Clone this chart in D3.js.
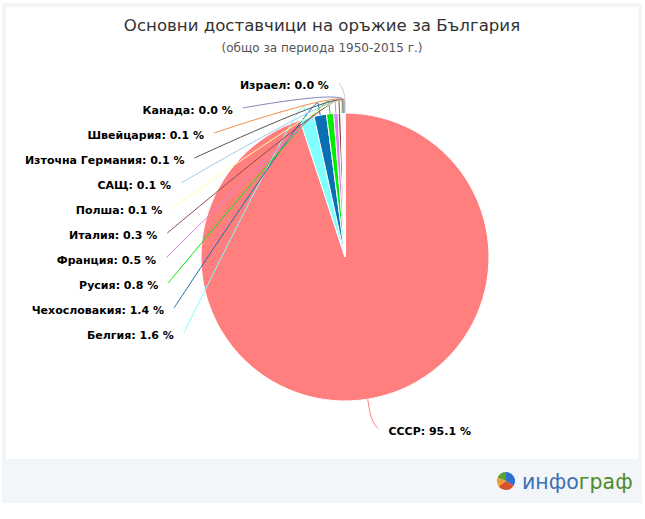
<!DOCTYPE html>
<html><head><meta charset="utf-8">
<script src="https://cdn.jsdelivr.net/npm/d3@7"></script>
<style>body{margin:0;background:#fff}</style>
</head><body>
<svg id="c" width="645" height="519"></svg>
<script>
// ---- data ----
const countries = ["СССР","Белгия","Чехословакия","Русия","Франция","Италия","Полша","САЩ","Източна Германия","Швейцария","Канада","Израел"];
const shares = [95.1, 1.6, 1.4, 0.8, 0.5, 0.3, 0.1, 0.1, 0.1, 0.1, 0.04, 0.02];
const sliceColors = ["#ff7f7f","#80ffff","#0b6fb3","#00ee00","#e07ff0","#8b4a4a","#ffffa8","#9ccbee","#555555","#f58a4a","#8383b8","#cccccc"];
const titleText = "Основни доставчици на оръжие за България";
const subtitleText = "(общо за периода 1950-2015 г.)";
const logoParts = ["инфо","граф"];

const svg = d3.select("#c");

// frame
svg.append("rect").attr("x",2).attr("y",3).attr("width",640).attr("height",500).attr("fill","#f3f6f9");
svg.append("rect").attr("x",6).attr("y",7).attr("width",632).attr("height",452).attr("fill","#ffffff");

// titles
svg.append("text").attr("x",322).attr("y",31).attr("text-anchor","middle")
  .attr("font-family","DejaVu Sans").attr("font-size",16.6).attr("fill","#333").text(titleText);
svg.append("text").attr("x",322).attr("y",52).attr("text-anchor","middle")
  .attr("font-family","DejaVu Sans").attr("font-size",12).attr("fill","#555").text(subtitleText);

// pie
const cx = 345, cy = 257, r = 144, dist = 30;
const data = countries.map((c,i)=>({name:c, v:shares[i], color:sliceColors[i]}));
const pie = d3.pie().sort(null).value(d=>d.v).startAngle(0).endAngle(2*Math.PI);
const arcs = pie(data);
const arc = d3.arc().innerRadius(0).outerRadius(r);
const g = svg.append("g").attr("transform",`translate(${cx},${cy})`);

const pt = (a, rad) => [cx + rad*Math.sin(a), cy - rad*Math.cos(a)];

// labels layout
arcs.forEach(a=>{
  a.mid = (a.startAngle + a.endAngle)/2;
  a.left = a.mid > Math.PI;
  a.natY = cy - (r+dist)*Math.cos(a.mid) + 2;
});
const lefts = arcs.filter(a=>a.left).sort((a,b)=>a.natY-b.natY);
const rights = arcs.filter(a=>!a.left).sort((a,b)=>a.natY-b.natY);
const gap = 25;
[lefts, rights].forEach(list=>{
  let prev = -Infinity;
  list.forEach(a=>{ a.ly = Math.max(a.natY, prev + gap); prev = a.ly; });
});
lefts.forEach((a,i)=>{
  const dy = a.ly - cy;
  if (i===0 && a.ly === a.natY) a.ax = cx + (r+dist)*Math.sin(a.mid) - 6;
  else a.ax = cx - Math.sqrt(Math.max(0, 179*179 - dy*dy));
});
rights.forEach(a=>{
  const dy = a.ly - cy;
  a.ax = cx + Math.sqrt(Math.max(0, 177*177 - dy*dy));
});

g.selectAll("path.slice").data(arcs).join("path").attr("class","slice")
  .attr("d",arc).attr("fill",d=>d.data.color).attr("stroke","#fff").attr("stroke-width",1).attr("stroke-linejoin","round");

const off = 12;
svg.append("g").selectAll("path").data(arcs).join("path")
  .attr("fill","none").attr("stroke",d=>d.data.color).attr("stroke-width",1)
  .attr("d",d=>{
    const ax = d.ax, ay = d.ly - 2;
    const b = pt(d.mid, r+off), c2 = pt(d.mid, r+2*off), e = pt(d.mid, r);
    return `M${ax},${ay}C${ax},${ay},${c2[0]},${c2[1]},${b[0]},${b[1]}L${e[0]},${e[1]}`;
  });

svg.append("g").selectAll("text").data(arcs).join("text")
  .attr("x",d=>d.left ? d.ax - 10 : d.ax + 10)
  .attr("y",d=>d.ly + 4)
  .attr("text-anchor",d=>d.left ? "end" : "start")
  .attr("font-family","DejaVu Sans").attr("font-weight","bold").attr("font-size",11).attr("fill","#000")
  .text(d=>`${d.data.name}: ${d.data.v.toFixed(1)} %`);

// logo
const logo = svg.append("g").attr("transform","translate(506,481)");
const logoArc = d3.arc().innerRadius(0).outerRadius(9);
[[0,2.1,"#2f6fd0"],[2.1,4.1,"#d9512c"],[4.1,5.1,"#f0a030"],[5.1,2*Math.PI,"#5aa032"]].forEach(s=>{
  logo.append("path").attr("d",logoArc({startAngle:s[0],endAngle:s[1]})).attr("fill",s[2]);
});
const lt = svg.append("text").attr("x",522).attr("y",489).attr("font-family","DejaVu Sans").attr("font-size",20.5);
lt.append("tspan").attr("fill","#3a70b5").text(logoParts[0]);
lt.append("tspan").attr("fill","#4f8a2a").text(logoParts[1]);
</script>
</body></html>
